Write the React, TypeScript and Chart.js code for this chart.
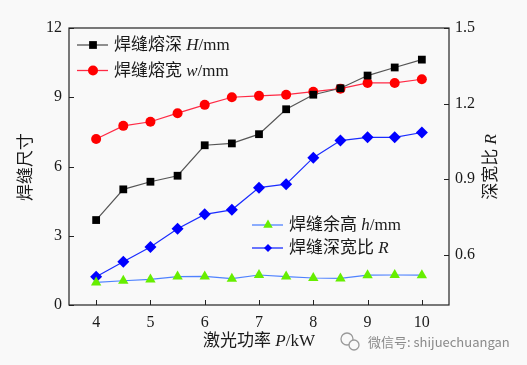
import React, { useEffect, useRef } from "react";
import { Chart, registerables } from "chart.js";
Chart.register(...registerables);

const power = [4, 4.5, 5, 5.5, 6, 6.5, 7, 7.5, 8, 8.5, 9, 9.5, 10];
const depthH = [3.68, 5.01, 5.34, 5.6, 6.92, 7.0, 7.4, 8.48, 9.11, 9.39, 9.94, 10.29, 10.63];
const widthW = [7.19, 7.76, 7.94, 8.31, 8.67, 9.0, 9.06, 9.11, 9.24, 9.37, 9.62, 9.62, 9.78];
const heightH = [0.98, 1.05, 1.11, 1.23, 1.24, 1.14, 1.3, 1.23, 1.17, 1.15, 1.29, 1.3, 1.29];
const ratioR = [0.512, 0.572, 0.63, 0.703, 0.76, 0.778, 0.866, 0.88, 0.985, 1.053, 1.066, 1.066, 1.085];
const xTicks = [4, 5, 6, 7, 8, 9, 10];
const leftTicks = [0, 3, 6, 9, 12];
const rightTicks = [0.6, 0.9, 1.2, 1.5];

const SERIF = "'Liberation Serif', 'Noto Sans CJK SC', serif";
const TEXT = "#1a1a1a";

type Part = { t: string; italic?: boolean };

function richWidth(ctx: CanvasRenderingContext2D, parts: Part[], size: number) {
  let w = 0;
  for (const p of parts) {
    ctx.font = `${p.italic ? "italic " : ""}${size}px ${SERIF}`;
    w += ctx.measureText(p.t).width;
  }
  return w;
}

function drawRich(ctx: CanvasRenderingContext2D, parts: Part[], x: number, y: number, size: number, align: "left" | "center") {
  const w = richWidth(ctx, parts, size);
  let cx = align === "center" ? x - w / 2 : x;
  ctx.textBaseline = "middle";
  ctx.textAlign = "left";
  ctx.fillStyle = TEXT;
  for (const p of parts) {
    ctx.font = `${p.italic ? "italic " : ""}${size}px ${SERIF}`;
    ctx.fillText(p.t, cx, y);
    cx += ctx.measureText(p.t).width;
  }
}

const series = [
  { label: [{ t: "焊缝熔深 " }, { t: "H", italic: true }, { t: "/mm" }], data: depthH, axis: "y", line: "#555555", fill: "#000000", style: "rect", r: 5.5, lr: 5.5 },
  { label: [{ t: "焊缝熔宽 " }, { t: "w", italic: true }, { t: "/mm" }], data: widthW, axis: "y", line: "#ff2a45", fill: "#ff0000", style: "circle", r: 5, lr: 5 },
  { label: [{ t: "焊缝余高 " }, { t: "h", italic: true }, { t: "/mm" }], data: heightH, axis: "y", line: "#4f82ff", fill: "#66ee00", style: "triangle", r: 6, lr: 5.5 },
  { label: [{ t: "焊缝深宽比 " }, { t: "R", italic: true }], data: ratioR, axis: "y1", line: "#1a2cff", fill: "#0000ff", style: "rectRot", r: 6, lr: 4 },
];

const decor = {
  id: "decor",
  beforeDraw(chart: any) {
    const ctx = chart.ctx;
    ctx.save();
    ctx.fillStyle = "#f9f9f9";
    ctx.fillRect(0, 0, chart.width, chart.height);
    ctx.restore();
  },
  afterDatasetsDraw(chart: any) {
    const ctx: CanvasRenderingContext2D = chart.ctx;
    const a = chart.chartArea;
    const xs = chart.scales.x;
    const yl = chart.scales.y;
    const yr = chart.scales.y1;
    ctx.save();
    ctx.strokeStyle = "#222";
    ctx.lineWidth = 1.2;
    ctx.strokeRect(a.left, a.top, a.right - a.left, a.bottom - a.top);
    ctx.lineWidth = 1;
    ctx.beginPath();
    for (const v of xTicks) {
      const px = Math.round(xs.getPixelForValue(v)) + 0.5;
      ctx.moveTo(px, a.bottom);
      ctx.lineTo(px, a.bottom - 5);
    }
    for (const v of leftTicks) {
      const py = Math.round(yl.getPixelForValue(v)) + 0.5;
      ctx.moveTo(a.left, py);
      ctx.lineTo(a.left + 5, py);
    }
    for (const v of rightTicks) {
      const py = Math.round(yr.getPixelForValue(v)) + 0.5;
      ctx.moveTo(a.right, py);
      ctx.lineTo(a.right - 5, py);
    }
    ctx.stroke();

    // legends
    const legendPos = [
      { x: 77, y: 45 },
      { x: 77, y: 70.5 },
      { x: 252, y: 225 },
      { x: 252, y: 248 },
    ];
    series.forEach((s, i) => {
      const p = legendPos[i];
      ctx.strokeStyle = s.line;
      ctx.lineWidth = 1.3;
      ctx.beginPath();
      ctx.moveTo(p.x, p.y);
      ctx.lineTo(p.x + 31, p.y);
      ctx.stroke();
      ctx.fillStyle = s.fill;
      const cx = p.x + 16;
      const cy = p.y;
      const r = s.lr;
      ctx.beginPath();
      if (s.style === "rect") {
        const h = r * Math.SQRT1_2;
        ctx.rect(cx - h, cy - h, 2 * h, 2 * h);
      } else if (s.style === "circle") {
        ctx.arc(cx, cy, r, 0, Math.PI * 2);
      } else if (s.style === "triangle") {
        ctx.moveTo(cx, cy - r);
        ctx.lineTo(cx + r * 0.866, cy + r * 0.5);
        ctx.lineTo(cx - r * 0.866, cy + r * 0.5);
        ctx.closePath();
      } else {
        ctx.moveTo(cx, cy - r);
        ctx.lineTo(cx + r, cy);
        ctx.lineTo(cx, cy + r);
        ctx.lineTo(cx - r, cy);
        ctx.closePath();
      }
      ctx.fill();
      drawRich(ctx, s.label as Part[], p.x + 37, p.y + 1, 17, "left");
    });

    // axis titles
    drawRich(ctx, [{ t: "激光功率 " }, { t: "P", italic: true }, { t: "/kW" }], (a.left + a.right) / 2, 342, 17, "center");
    ctx.save();
    ctx.translate(27, 167);
    ctx.rotate(-Math.PI / 2);
    drawRich(ctx, [{ t: "焊缝尺寸" }], 0, 0, 17, "center");
    ctx.restore();
    ctx.save();
    ctx.translate(492, 167);
    ctx.rotate(-Math.PI / 2);
    drawRich(ctx, [{ t: "深宽比 " }, { t: "R", italic: true }], 0, 0, 17, "center");
    ctx.restore();

    // watermark
    ctx.strokeStyle = "#9a9a9a";
    ctx.lineWidth = 1.3;
    ctx.beginPath();
    ctx.arc(347, 339, 6, 0, Math.PI * 2);
    ctx.stroke();
    ctx.fillStyle = "#f9f9f9";
    ctx.beginPath();
    ctx.arc(354, 345, 5, 0, Math.PI * 2);
    ctx.fill();
    ctx.beginPath();
    ctx.arc(354, 345, 5, 0, Math.PI * 2);
    ctx.stroke();
    ctx.fillStyle = "#8a8a8a";
    ctx.font = "13px 'Noto Sans CJK SC', 'DejaVu Sans', sans-serif";
    ctx.textAlign = "left";
    ctx.textBaseline = "middle";
    ctx.fillText("微信号: shijuechuangan", 368, 342);
    ctx.restore();
  },
};

export default function App() {
  const ref = useRef<HTMLCanvasElement>(null);
  useEffect(() => {
    if (!ref.current) return;
    const chart = new Chart(ref.current, {
      type: "line",
      data: {
        datasets: series.map((s) => ({
          data: power.map((x, i) => ({ x, y: s.data[i] })),
          yAxisID: s.axis,
          borderColor: s.line,
          borderWidth: 1.2,
          backgroundColor: s.fill,
          pointBackgroundColor: s.fill,
          pointBorderColor: s.fill,
          pointBorderWidth: 0,
          pointStyle: s.style as any,
          pointRadius: s.r,
          tension: 0,
        })),
      },
      plugins: [decor],
      options: {
        animation: false,
        responsive: false,
        devicePixelRatio: 1,
        layout: { padding: { top: 28, left: 0, right: 0, bottom: 0 }, autoPadding: false },
        plugins: { legend: { display: false }, tooltip: { enabled: false } },
        font: { family: SERIF },
        scales: {
          x: {
            type: "linear",
            min: 3.5,
            max: 10.5,
            grid: { display: false, drawTicks: false },
            border: { display: false },
            afterBuildTicks: (sc: any) => { sc.ticks = xTicks.map((v) => ({ value: v })); },
            afterFit: (sc: any) => { sc.height = 60; },
            ticks: { padding: 8, color: TEXT, font: { family: SERIF, size: 16 }, callback: (v: any) => String(v) },
          },
          y: {
            position: "left",
            min: 0,
            max: 12,
            grid: { display: false, drawTicks: false },
            border: { display: false },
            afterBuildTicks: (sc: any) => { sc.ticks = leftTicks.map((v) => ({ value: v })); },
            afterFit: (sc: any) => { sc.width = 69; },
            ticks: { padding: 7, color: TEXT, font: { family: SERIF, size: 16 }, callback: (v: any) => String(v) },
          },
          y1: {
            position: "right",
            min: 0.4,
            max: 1.5,
            grid: { display: false, drawTicks: false },
            border: { display: false },
            afterBuildTicks: (sc: any) => { sc.ticks = rightTicks.map((v) => ({ value: v })); },
            afterFit: (sc: any) => { sc.width = 78; },
            ticks: { padding: 6, color: TEXT, font: { family: SERIF, size: 16 }, callback: (v: any) => Number(v).toFixed(1) },
          },
        },
      } as any,
    });
    return () => chart.destroy();
  }, []);
  return (
    <div style={{ position: "fixed", left: 0, top: 0, width: 527, height: 365, background: "#f9f9f9" }}>
      <canvas ref={ref} width={527} height={365} style={{ display: "block" }} />
    </div>
  );
}
